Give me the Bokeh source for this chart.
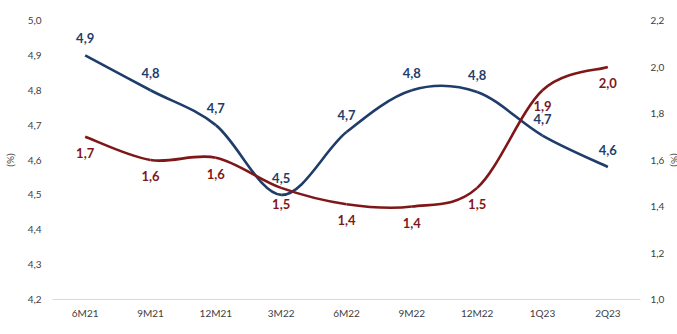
from bokeh.plotting import figure
from bokeh.models import (Range1d, LinearAxis, FixedTicker, CustomJSTickFormatter,
                          Legend, LegendItem, ColumnDataSource)
from bokeh.core.properties import value
from bokeh.embed import file_html
from bokeh.resources import INLINE

categories = ["6M21", "9M21", "12M21", "3M22", "6M22", "9M22", "12M22", "1Q23", "2Q23"]
nim = [4.90, 4.80, 4.70, 4.50, 4.68, 4.80, 4.795, 4.67, 4.58]
cof = [1.70, 1.60, 1.61, 1.48, 1.41, 1.40, 1.48, 1.90, 2.00]
nim_labels = ["4,9", "4,8", "4,7", "4,5", "4,7", "4,8", "4,8", "4,7", "4,6"]
cof_labels = ["1,7", "1,6", "1,6", "1,5", "1,4", "1,4", "1,5", "1,9", "2,0"]
left_ticks = [4.2, 4.3, 4.4, 4.5, 4.6, 4.7, 4.8, 4.9, 5.0]
right_ticks = [1.0, 1.2, 1.4, 1.6, 1.8, 2.0, 2.2]

NIM_COLOR = "#1F3D6B"
COF_COLOR = "#7F1719"
FONT = "Lato"

xs = [i + 0.5 for i in range(len(categories))]


def bezier_source(x, y):
    n = len(x)
    d = dict(x0=[], y0=[], x1=[], y1=[], cx0=[], cy0=[], cx1=[], cy1=[])
    for i in range(n - 1):
        a = i - 1 if i > 0 else i
        b = i + 2 if i + 2 < n else i + 1
        d["x0"].append(x[i]); d["y0"].append(y[i])
        d["x1"].append(x[i + 1]); d["y1"].append(y[i + 1])
        d["cx0"].append(x[i] + (x[i + 1] - x[a]) / 6)
        d["cy0"].append(y[i] + (y[i + 1] - y[a]) / 6)
        d["cx1"].append(x[i + 1] - (x[b] - x[i]) / 6)
        d["cy1"].append(y[i + 1] - (y[b] - y[i]) / 6)
    return ColumnDataSource(d)


p = figure(width=677, height=334, frame_width=588, frame_height=279,
           output_backend="svg", toolbar_location=None,
           x_range=Range1d(0, len(categories)), y_range=Range1d(4.2, 5.0),
           min_border_left=49, min_border_right=0, min_border_top=20,
           min_border_bottom=0)
p.extra_y_ranges = {"right": Range1d(1.0, 2.2)}
p.outline_line_color = None
p.grid.grid_line_color = None
p.background_fill_color = "white"
p.border_fill_color = "white"

fmt_comma = CustomJSTickFormatter(code="return tick.toFixed(1).replace('.', ',');")


def style_axis(ax, standoff):
    ax.major_tick_line_color = None
    ax.minor_tick_line_color = None
    ax.major_tick_out = 0
    ax.major_tick_in = 0
    ax.minor_tick_out = 0
    ax.minor_tick_in = 0
    ax.major_label_standoff = standoff
    ax.major_label_text_font = FONT
    ax.major_label_text_font_size = "10px"
    ax.major_label_text_color = "#404040"


# x axis
xa = p.xaxis[0]
xa.ticker = FixedTicker(ticks=xs)
xa.formatter = CustomJSTickFormatter(args=dict(cats=categories),
                                     code="return cats[Math.floor(tick)];")
xa.axis_line_color = "#D9D9D9"
style_axis(xa, 7)

# left axis
ya = p.yaxis[0]
ya.ticker = FixedTicker(ticks=left_ticks)
ya.formatter = fmt_comma
ya.axis_line_color = None
style_axis(ya, 11)
ya.axis_label = "(%)"
ya.axis_label_text_font = FONT
ya.axis_label_text_font_size = "10px"
ya.axis_label_text_font_style = "normal"
ya.axis_label_text_color = "#404040"
ya.axis_label_standoff = 9

# right axis
ra = LinearAxis(y_range_name="right", ticker=FixedTicker(ticks=right_ticks),
                formatter=fmt_comma)
ra.axis_line_color = None
style_axis(ra, 10)
ra.axis_label = "(%)"
ra.axis_label_text_font = FONT
ra.axis_label_text_font_size = "10px"
ra.axis_label_text_font_style = "normal"
ra.axis_label_text_color = "#404040"
ra.axis_label_standoff = 2
p.add_layout(ra, "right")

# lines
r_nim = p.bezier(x0="x0", y0="y0", x1="x1", y1="y1", cx0="cx0", cy0="cy0",
                 cx1="cx1", cy1="cy1", source=bezier_source(xs, nim),
                 line_color=NIM_COLOR, line_width=2.6)
r_cof = p.bezier(x0="x0", y0="y0", x1="x1", y1="y1", cx0="cx0", cy0="cy0",
                 cx1="cx1", cy1="cy1", source=bezier_source(xs, cof),
                 line_color=COF_COLOR, line_width=2.6, y_range_name="right")

# data labels
p.text(x=xs, y=nim, text=nim_labels, y_offset=-17, text_align="center",
       text_baseline="middle", text_font=value(FONT), text_font_style="bold",
       text_font_size="13px", text_color=NIM_COLOR)
p.text(x=xs, y=cof, text=cof_labels, y_offset=16, text_align="center",
       text_baseline="middle", text_font=value(FONT), text_font_style="bold",
       text_font_size="13px", text_color=COF_COLOR, y_range_name="right")

# legend
legend = Legend(items=[LegendItem(label="NIM  (LHS)", renderers=[r_nim]),
                       LegendItem(label="Cost of Fund (RHS)", renderers=[r_cof])],
                location="center", orientation="horizontal",
                border_line_color=None, background_fill_alpha=0,
                padding=0, margin=0, spacing=14, label_standoff=2,
                glyph_width=28, glyph_height=8, label_height=8,
                label_text_font=FONT, label_text_font_size="10px",
                label_text_color="#404040")
p.add_layout(legend, "below")

open("out.html", "w").write(file_html(p, INLINE))
